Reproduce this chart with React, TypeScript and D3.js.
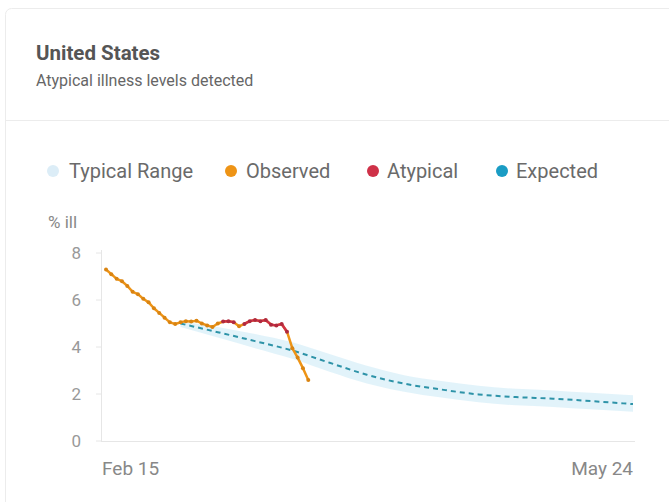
import React from "react";
import * as d3 from "d3";

const startDate = "2020-02-15";
const endDate = "2020-05-24";
const xTickLabels = ["Feb 15", "May 24"];
const yTicks = [0, 2, 4, 6, 8];

// Observed daily values starting Feb 15
const observedValues = [
  7.3, 7.1, 6.9, 6.8, 6.6, 6.35, 6.25, 6.05, 5.9, 5.65, 5.45, 5.25, 5.05, 4.98,
  5.05, 5.1, 5.08, 5.12, 5.0, 4.92, 4.85, 5.0, 5.08, 5.1, 5.05, 4.88, 4.98, 5.1,
  5.15, 5.1, 5.15, 4.95, 4.92, 4.98, 4.65, 3.95, 3.55, 3.1, 2.6,
];
// day indices flagged atypical
const atypicalDays = [22, 23, 24, 26, 27, 28, 29, 30, 31, 32, 33, 34];

// Expected + typical range (day offsets from Feb 15)
const expectedDays = [14, 21, 28, 35, 42, 49, 56, 63, 70, 77, 84, 91, 99];
const expectedValues = [5.0, 4.63, 4.25, 3.85, 3.33, 2.82, 2.44, 2.19, 1.98, 1.87, 1.8, 1.7, 1.57];
const rangeLower = [4.85, 4.4, 3.95, 3.5, 2.95, 2.45, 2.1, 1.85, 1.65, 1.52, 1.45, 1.35, 1.25];
const rangeUpper = [5.1, 4.85, 4.55, 4.2, 3.7, 3.2, 2.8, 2.55, 2.35, 2.22, 2.15, 2.05, 1.95];

const legendItems = [
  { label: "Typical Range", color: "#dcedf7" },
  { label: "Observed", color: "#ee9416" },
  { label: "Atypical", color: "#cf3148" },
  { label: "Expected", color: "#1a9cc4" },
];

const FONT = "Roboto, 'Noto Sans', sans-serif";

export default function App() {
  const W = 669;
  const H = 502;
  const t0 = new Date(startDate + "T00:00:00");
  const t1 = new Date(endDate + "T00:00:00");
  const dayDate = (d: number) => d3.timeDay.offset(t0, d);
  const x = d3.scaleTime().domain([t0, t1]).range([106, 633]);
  const y = d3.scaleLinear().domain([0, 8]).range([441, 253]);

  const obs = observedValues.map((v, i) => ({ d: i, v }));
  const atypSet = new Set(atypicalDays);
  const exp = expectedDays.map((d, i) => ({
    d,
    v: expectedValues[i],
    lo: rangeLower[i],
    hi: rangeUpper[i],
  }));

  const line = d3
    .line<{ d: number; v: number }>()
    .x((p) => x(dayDate(p.d)))
    .y((p) => y(p.v));
  const expLine = d3
    .line<{ d: number; v: number }>()
    .x((p) => x(dayDate(p.d)))
    .y((p) => y(p.v))
    .curve(d3.curveMonotoneX);
  const area = d3
    .area<{ d: number; lo: number; hi: number }>()
    .x((p) => x(dayDate(p.d)))
    .y0((p) => y(p.lo))
    .y1((p) => y(p.hi))
    .curve(d3.curveMonotoneX);

  const redSegs: { d: number; v: number }[][] = [];
  for (let i = 0; i < obs.length - 1; i++) {
    if (atypSet.has(i) && atypSet.has(i + 1)) redSegs.push([obs[i], obs[i + 1]]);
  }

  const legendX = [53, 231, 373, 502];
  const legendTextX = [69, 246, 387, 516];

  return (
    <svg
      width={W}
      height={H}
      style={{ position: "absolute", left: 0, top: 0, background: "#fff" }}
      fontFamily={FONT}
    >
      <rect x={5.5} y={8.5} width={700} height={520} rx={6} fill="#fff" stroke="#ececec" />
      <line x1={6} x2={669} y1={120.5} y2={120.5} stroke="#ececec" />
      <text x={36} y={60} fontSize={20.5} fontWeight={700} fill="#555">
        United States
      </text>
      <text x={36} y={86} fontSize={16} fill="#666">
        Atypical illness levels detected
      </text>

      {legendItems.map((it, i) => (
        <g key={it.label}>
          <circle cx={legendX[i]} cy={171} r={6} fill={it.color} />
          <text x={legendTextX[i]} y={178} fontSize={20} fill="#6a6a6a">
            {it.label}
          </text>
        </g>
      ))}

      <text x={48} y={228} fontSize={17} fill="#888">
        % ill
      </text>
      <line x1={101.5} x2={101.5} y1={250} y2={441} stroke="#e6e6e6" />
      <line x1={101} x2={635} y1={441.5} y2={441.5} stroke="#e6e6e6" />
      {yTicks.map((t) => (
        <g key={t}>
          <line x1={96} x2={101} y1={y(t)} y2={y(t)} stroke="#e6e6e6" />
          <text x={81} y={y(t) + 6} fontSize={17} fill="#999" textAnchor="end">
            {t}
          </text>
        </g>
      ))}
      <text x={102} y={475} fontSize={19} fill="#888">
        {xTickLabels[0]}
      </text>
      <text x={633} y={475} fontSize={19} fill="#888" textAnchor="end">
        {xTickLabels[1]}
      </text>

      <path d={area(exp) || ""} fill="#dff2fa" opacity={0.9} />
      <path
        d={expLine(exp) || ""}
        fill="none"
        stroke="#2e93a8"
        strokeWidth={2}
        strokeDasharray="5,4"
      />

      <path d={line(obs) || ""} fill="none" stroke="#ee9416" strokeWidth={2.5} strokeLinejoin="round" />
      {redSegs.map((s, i) => (
        <path key={i} d={line(s) || ""} fill="none" stroke="#cf3148" strokeWidth={2.5} />
      ))}
      {obs.map((p) => (
        <circle
          key={p.d}
          cx={x(dayDate(p.d))}
          cy={y(p.v)}
          r={2}
          fill={atypSet.has(p.d) ? "#b02a3e" : "#d98412"}
        />
      ))}
    </svg>
  );
}
